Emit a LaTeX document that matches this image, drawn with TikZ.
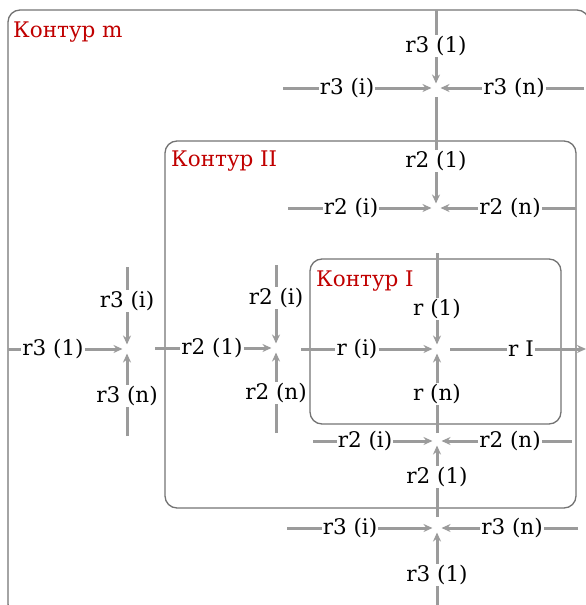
\documentclass[tikz,border=0pt]{standalone}
\usepackage{fontspec}
\setmainfont{DejaVu Serif}
\usepackage{xcolor}
\usepackage{tikz}
\usetikzlibrary{arrows.meta,positioning,calc}

\definecolor{wiregray}{RGB}{155,155,155}
\definecolor{framegray}{RGB}{115,115,115}
\definecolor{titlered}{RGB}{192,0,0}

\begin{document}
\begin{tikzpicture}[
    x=1pt,y=1pt,
    >={Stealth[length=9pt,width=8pt]},
    wire/.style={draw=wiregray, line width=3pt},
    feed/.style={wire, ->, shorten >=4.5pt},
    frame/.style={draw=framegray, line width=1.3pt, rounded corners=12pt},
    lbl/.style={font=\fontsize{21.5}{25}\selectfont, text=black, inner sep=1pt},
    title/.style={font=\fontsize{21.5}{25}\selectfont, text=titlered, inner sep=0pt, anchor=west}
]
\useasboundingbox (0,0) rectangle (586,-605);

% ===== contours =====
\draw[frame] (8,-10) rectangle (589,-616);
\draw[frame] (165,-141) rectangle (576,-508);
\draw[frame] (310,-259) rectangle (561,-424);

\node[title] (tm) at (13,-32) {Контур m};
\node[title] (tII) at (171,-161) {Контур II};
\node[title] (tI) at (316,-281) {Контур I};

% ===== junctions =====
\coordinate (J3t) at (436,-88);
\coordinate (J2t) at (436,-208);
\coordinate (J1)  at (437,-349);
\coordinate (J2b) at (437,-441);
\coordinate (J3b) at (437,-528);
\coordinate (J3l) at (127,-349);
\coordinate (J2l) at (276,-348);

% ===== top cluster (contour m) =====
\coordinate (s3t1) at (436,-10);
\node[lbl] (r3t1) at (436,-46) {r3 (1)};
\draw[wire] (s3t1) -- (r3t1);
\draw[feed] (r3t1) -- (J3t);

\coordinate (s3ti) at (283,-88);
\node[lbl] (r3ti) at (347,-88) {r3 (i)};
\draw[wire] (s3ti) -- (r3ti);
\draw[feed] (r3ti) -- (J3t);

\coordinate (s3tn) at (584,-88);
\node[lbl] (r3tn) at (514,-88) {r3 (n)};
\draw[wire] (s3tn) -- (r3tn);
\draw[feed] (r3tn) -- (J3t);

% ===== top cluster (contour II) =====
\coordinate (s2t1) at (436,-97);
\node[lbl] (r2t1) at (436,-161) {r2 (1)};
\draw[wire] (s2t1) -- (r2t1);
\draw[feed] (r2t1) -- (J2t);

\coordinate (s2ti) at (288,-208);
\node[lbl] (r2ti) at (351,-208) {r2 (i)};
\draw[wire] (s2ti) -- (r2ti);
\draw[feed] (r2ti) -- (J2t);

\coordinate (s2tn) at (576,-208);
\node[lbl] (r2tn) at (510,-208) {r2 (n)};
\draw[wire] (s2tn) -- (r2tn);
\draw[feed] (r2tn) -- (J2t);

% ===== contour I =====
\coordinate (s11) at (437,-253);
\node[lbl] (r11) at (437,-309) {r (1)};
\draw[wire] (s11) -- (r11);
\draw[feed] (r11) -- (J1);

\coordinate (s1i) at (301,-349);
\node[lbl] (r1i) at (357,-349) {r (i)};
\draw[wire] (s1i) -- (r1i);
\draw[feed] (r1i) -- (J1);

\coordinate (s1n) at (437,-433);
\node[lbl] (r1n) at (437,-394) {r (n)};
\draw[wire] (s1n) -- (r1n);
\draw[feed] (r1n) -- (J1);

% output
\coordinate (oI) at (450,-349);
\coordinate (eI) at (586,-349);
\node[lbl] (rI) at (521,-349) {r I};
\draw[wire] (oI) -- (rI);
\draw[wire,->] (rI) -- (eI);

% ===== bottom cluster (contour II) =====
\coordinate (s2bi) at (313,-441);
\node[lbl] (r2bi) at (365,-441) {r2 (i)};
\draw[wire] (s2bi) -- (r2bi);
\draw[feed] (r2bi) -- (J2b);

\coordinate (s2bn) at (572,-441);
\node[lbl] (r2bn) at (510,-441) {r2 (n)};
\draw[wire] (s2bn) -- (r2bn);
\draw[feed] (r2bn) -- (J2b);

\coordinate (s2b1) at (437,-517);
\node[lbl] (r2b1) at (437,-477) {r2 (1)};
\draw[wire] (s2b1) -- (r2b1);
\draw[feed] (r2b1) -- (J2b);

% ===== bottom cluster (contour m) =====
\coordinate (s3bi) at (287,-528);
\node[lbl] (r3bi) at (350,-528) {r3 (i)};
\draw[wire] (s3bi) -- (r3bi);
\draw[feed] (r3bi) -- (J3b);

\coordinate (s3bn) at (578,-528);
\node[lbl] (r3bn) at (512,-528) {r3 (n)};
\draw[wire] (s3bn) -- (r3bn);
\draw[feed] (r3bn) -- (J3b);

\coordinate (s3b1) at (437,-605);
\node[lbl] (r3b1) at (437,-575) {r3 (1)};
\draw[wire] (s3b1) -- (r3b1);
\draw[feed] (r3b1) -- (J3b);

% ===== left cluster (contour m) =====
\coordinate (s3l1) at (8,-349);
\node[lbl] (r3l1) at (53,-349) {r3 (1)};
\draw[wire] (s3l1) -- (r3l1);
\draw[feed] (r3l1) -- (J3l);

\coordinate (s3li) at (127,-267);
\node[lbl] (r3li) at (127,-301) {r3 (i)};
\draw[wire] (s3li) -- (r3li);
\draw[feed] (r3li) -- (J3l);

\coordinate (s3ln) at (127,-436);
\node[lbl] (r3ln) at (127,-396) {r3 (n)};
\draw[wire] (s3ln) -- (r3ln);
\draw[feed] (r3ln) -- (J3l);

% ===== left cluster (contour II) =====
\coordinate (s2l1) at (155,-348);
\node[lbl] (r2l1) at (212,-348) {r2 (1)};
\draw[wire] (s2l1) -- (r2l1);
\draw[feed] (r2l1) -- (J2l);

\coordinate (s2li) at (276,-265);
\node[lbl] (r2li) at (276,-298) {r2 (i)};
\draw[wire] (s2li) -- (r2li);
\draw[feed] (r2li) -- (J2l);

\coordinate (s2ln) at (276,-433);
\node[lbl] (r2ln) at (276,-393) {r2 (n)};
\draw[wire] (s2ln) -- (r2ln);
\draw[feed] (r2ln) -- (J2l);
\end{tikzpicture}
\end{document}
